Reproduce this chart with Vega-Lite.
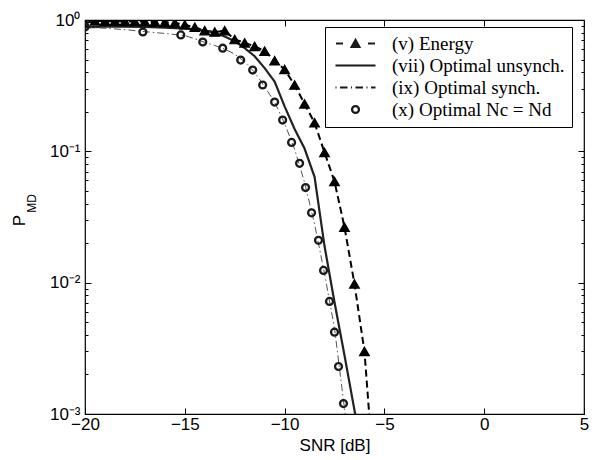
{
  "$schema": "https://vega.github.io/schema/vega-lite/v6.json",
  "width": 499,
  "height": 394,
  "autosize": {"type": "none"},
  "padding": {"left": 85, "top": 20, "right": 14, "bottom": 46},
  "background": "white",
  "config": {
    "view": {"stroke": "#000000", "strokeWidth": 1.2},
    "axis": {
      "grid": false,
      "domain": false,
      "tickColor": "#000000",
      "tickWidth": 1,
      "labelFont": "Liberation Sans",
      "labelFontSize": 17,
      "labelColor": "#000000",
      "titleFont": "Liberation Sans",
      "titleFontSize": 17,
      "titleFontWeight": "normal",
      "titleColor": "#000000",
      "labelOverlap": false,
      "labelFlush": false
    }
  },
  "datasets": {
    "curves": [
      {"s": "(v) Energy", "x": -20, "y": 0.95},
      {"s": "(v) Energy", "x": -19.5, "y": 0.985},
      {"s": "(v) Energy", "x": -19, "y": 0.98},
      {"s": "(v) Energy", "x": -18.5, "y": 0.98},
      {"s": "(v) Energy", "x": -18, "y": 0.975},
      {"s": "(v) Energy", "x": -17.5, "y": 0.975},
      {"s": "(v) Energy", "x": -17, "y": 0.97},
      {"s": "(v) Energy", "x": -16.5, "y": 0.965},
      {"s": "(v) Energy", "x": -16, "y": 0.96},
      {"s": "(v) Energy", "x": -15.5, "y": 0.95},
      {"s": "(v) Energy", "x": -15, "y": 0.92},
      {"s": "(v) Energy", "x": -14.5, "y": 0.88},
      {"s": "(v) Energy", "x": -14, "y": 0.83},
      {"s": "(v) Energy", "x": -13.5, "y": 0.81},
      {"s": "(v) Energy", "x": -13, "y": 0.83},
      {"s": "(v) Energy", "x": -12.5, "y": 0.71},
      {"s": "(v) Energy", "x": -12, "y": 0.67},
      {"s": "(v) Energy", "x": -11.5, "y": 0.63},
      {"s": "(v) Energy", "x": -11, "y": 0.58},
      {"s": "(v) Energy", "x": -10.5, "y": 0.49},
      {"s": "(v) Energy", "x": -10, "y": 0.42},
      {"s": "(v) Energy", "x": -9.5, "y": 0.32},
      {"s": "(v) Energy", "x": -9, "y": 0.23},
      {"s": "(v) Energy", "x": -8.5, "y": 0.165},
      {"s": "(v) Energy", "x": -8, "y": 0.098},
      {"s": "(v) Energy", "x": -7.5, "y": 0.059},
      {"s": "(v) Energy", "x": -7, "y": 0.0265},
      {"s": "(v) Energy", "x": -6.5, "y": 0.0098},
      {"s": "(v) Energy", "x": -6, "y": 0.003},
      {"s": "(v) Energy", "x": -5.5, "y": 0.0003},
      {"s": "(vii) Optimal unsynch.", "x": -20, "y": 0.88},
      {"s": "(vii) Optimal unsynch.", "x": -19, "y": 0.89},
      {"s": "(vii) Optimal unsynch.", "x": -18, "y": 0.89},
      {"s": "(vii) Optimal unsynch.", "x": -17, "y": 0.885},
      {"s": "(vii) Optimal unsynch.", "x": -16, "y": 0.875},
      {"s": "(vii) Optimal unsynch.", "x": -15, "y": 0.86},
      {"s": "(vii) Optimal unsynch.", "x": -14.5, "y": 0.85},
      {"s": "(vii) Optimal unsynch.", "x": -14, "y": 0.83},
      {"s": "(vii) Optimal unsynch.", "x": -13.5, "y": 0.8},
      {"s": "(vii) Optimal unsynch.", "x": -13, "y": 0.75},
      {"s": "(vii) Optimal unsynch.", "x": -12.5, "y": 0.69},
      {"s": "(vii) Optimal unsynch.", "x": -12, "y": 0.61},
      {"s": "(vii) Optimal unsynch.", "x": -11.5, "y": 0.53},
      {"s": "(vii) Optimal unsynch.", "x": -11, "y": 0.43},
      {"s": "(vii) Optimal unsynch.", "x": -10.5, "y": 0.34},
      {"s": "(vii) Optimal unsynch.", "x": -10, "y": 0.22},
      {"s": "(vii) Optimal unsynch.", "x": -9.5, "y": 0.148},
      {"s": "(vii) Optimal unsynch.", "x": -9, "y": 0.105},
      {"s": "(vii) Optimal unsynch.", "x": -8.5, "y": 0.064},
      {"s": "(vii) Optimal unsynch.", "x": -8, "y": 0.019},
      {"s": "(vii) Optimal unsynch.", "x": -7.5, "y": 0.0071},
      {"s": "(vii) Optimal unsynch.", "x": -7, "y": 0.0028},
      {"s": "(vii) Optimal unsynch.", "x": -6.5, "y": 0.00107},
      {"s": "(vii) Optimal unsynch.", "x": -6, "y": 0.0004},
      {"s": "(ix) Optimal synch.", "x": -20, "y": 0.885},
      {"s": "(ix) Optimal synch.", "x": -19, "y": 0.865},
      {"s": "(ix) Optimal synch.", "x": -18, "y": 0.845},
      {"s": "(ix) Optimal synch.", "x": -17, "y": 0.815},
      {"s": "(ix) Optimal synch.", "x": -16, "y": 0.79},
      {"s": "(ix) Optimal synch.", "x": -15, "y": 0.76},
      {"s": "(ix) Optimal synch.", "x": -14.5, "y": 0.72},
      {"s": "(ix) Optimal synch.", "x": -14, "y": 0.675},
      {"s": "(ix) Optimal synch.", "x": -13.5, "y": 0.64},
      {"s": "(ix) Optimal synch.", "x": -13, "y": 0.6},
      {"s": "(ix) Optimal synch.", "x": -12.5, "y": 0.55},
      {"s": "(ix) Optimal synch.", "x": -12, "y": 0.48},
      {"s": "(ix) Optimal synch.", "x": -11.5, "y": 0.4},
      {"s": "(ix) Optimal synch.", "x": -11, "y": 0.31},
      {"s": "(ix) Optimal synch.", "x": -10.5, "y": 0.237},
      {"s": "(ix) Optimal synch.", "x": -10, "y": 0.163},
      {"s": "(ix) Optimal synch.", "x": -9.5, "y": 0.104},
      {"s": "(ix) Optimal synch.", "x": -9, "y": 0.058},
      {"s": "(ix) Optimal synch.", "x": -8.5, "y": 0.028},
      {"s": "(ix) Optimal synch.", "x": -8, "y": 0.0117},
      {"s": "(ix) Optimal synch.", "x": -7.5, "y": 0.0045},
      {"s": "(ix) Optimal synch.", "x": -7, "y": 0.0011},
      {"s": "(ix) Optimal synch.", "x": -6.5, "y": 0.0003}
    ],
    "circ": [
      {"s": "(x) Optimal Nc = Nd", "x": -20, "y": 0.885},
      {"s": "(x) Optimal Nc = Nd", "x": -17.1, "y": 0.81},
      {"s": "(x) Optimal Nc = Nd", "x": -15.2, "y": 0.77},
      {"s": "(x) Optimal Nc = Nd", "x": -14.1, "y": 0.68},
      {"s": "(x) Optimal Nc = Nd", "x": -13.1, "y": 0.61},
      {"s": "(x) Optimal Nc = Nd", "x": -12.2, "y": 0.495},
      {"s": "(x) Optimal Nc = Nd", "x": -11.6, "y": 0.416},
      {"s": "(x) Optimal Nc = Nd", "x": -11.1, "y": 0.32},
      {"s": "(x) Optimal Nc = Nd", "x": -10.5, "y": 0.237},
      {"s": "(x) Optimal Nc = Nd", "x": -10.1, "y": 0.173},
      {"s": "(x) Optimal Nc = Nd", "x": -9.65, "y": 0.117},
      {"s": "(x) Optimal Nc = Nd", "x": -9.25, "y": 0.081},
      {"s": "(x) Optimal Nc = Nd", "x": -8.95, "y": 0.053},
      {"s": "(x) Optimal Nc = Nd", "x": -8.65, "y": 0.034},
      {"s": "(x) Optimal Nc = Nd", "x": -8.3, "y": 0.021},
      {"s": "(x) Optimal Nc = Nd", "x": -8.05, "y": 0.0124},
      {"s": "(x) Optimal Nc = Nd", "x": -7.75, "y": 0.0072},
      {"s": "(x) Optimal Nc = Nd", "x": -7.5, "y": 0.0042},
      {"s": "(x) Optimal Nc = Nd", "x": -7.3, "y": 0.0023},
      {"s": "(x) Optimal Nc = Nd", "x": -7.05, "y": 0.0012}
    ]
  },
  "resolve": {"axis": {"x": "independent", "y": "independent"}},
  "layer": [
    {
      "data": {"name": "curves"},
      "transform": [{"filter": "datum.s === '(v) Energy'"}],
      "mark": {"type": "line", "clip": true, "color": "#000000", "strokeWidth": 2, "strokeDash": [7, 4]},
      "encoding": {
        "x": {"field": "x", "type": "quantitative", "scale": {"domain": [-20, 5], "nice": false, "zero": false},
          "axis": {"orient": "bottom", "values": [-20, -15, -10, -5, 0, 5], "tickSize": -6, "labelPadding": 8, "title": "SNR [dB]", "titlePadding": 5}},
        "y": {"field": "y", "type": "quantitative", "scale": {"type": "log", "domain": [0.001, 1], "nice": false},
          "axis": {"orient": "left",
            "values": [0.001, 0.002, 0.003, 0.004, 0.005, 0.006, 0.007, 0.008, 0.009, 0.01, 0.02, 0.03, 0.04, 0.05, 0.06, 0.07, 0.08, 0.09, 0.1, 0.2, 0.3, 0.4, 0.5, 0.6, 0.7, 0.8, 0.9, 1],
            "tickSize": {"condition": {"test": "datum.value == 1 || datum.value == 0.1 || datum.value == 0.01 || datum.value == 0.001", "value": -6}, "value": -3},
            "labelPadding": 11,
            "labelExpr": "datum.value == 1 ? '10⁰' : datum.value == 0.1 ? '10⁻¹' : datum.value == 0.01 ? '10⁻²' : datum.value == 0.001 ? '10⁻³' : ''",
            "title": "P", "titleAngle": -90, "titleX": -61, "titleY": 200, "titleAlign": "center", "titleBaseline": "alphabetic"}}
      }
    },
    {
      "data": {"name": "curves"},
      "transform": [{"filter": "datum.s === '(vii) Optimal unsynch.'"}],
      "mark": {"type": "line", "clip": true, "color": "#222222", "strokeWidth": 2.2},
      "encoding": {
        "x": {"field": "x", "type": "quantitative",
          "axis": {"orient": "top", "values": [-20, -15, -10, -5, 0, 5], "tickSize": -6, "labels": false, "title": null}},
        "y": {"field": "y", "type": "quantitative",
          "axis": {"orient": "right",
            "values": [0.001, 0.002, 0.003, 0.004, 0.005, 0.006, 0.007, 0.008, 0.009, 0.01, 0.02, 0.03, 0.04, 0.05, 0.06, 0.07, 0.08, 0.09, 0.1, 0.2, 0.3, 0.4, 0.5, 0.6, 0.7, 0.8, 0.9, 1],
            "tickSize": {"condition": {"test": "datum.value == 1 || datum.value == 0.1 || datum.value == 0.01 || datum.value == 0.001", "value": -6}, "value": -3},
            "labels": false, "title": null}}
      }
    },
    {
      "data": {"name": "curves"},
      "transform": [{"filter": "datum.s === '(ix) Optimal synch.'"}],
      "mark": {"type": "line", "clip": true, "color": "#555555", "strokeWidth": 1, "strokeDash": [7, 3, 1.5, 3]},
      "encoding": {
        "x": {"field": "x", "type": "quantitative", "axis": null},
        "y": {"field": "y", "type": "quantitative", "axis": null}
      }
    },
    {
      "data": {"name": "curves"},
      "transform": [{"filter": "datum.s === '(v) Energy'"}],
      "mark": {"type": "point", "clip": true, "shape": "triangle-up", "filled": true, "color": "#000000", "size": 95, "stroke": "#000000", "strokeWidth": 1.2, "opacity": 1},
      "encoding": {
        "x": {"field": "x", "type": "quantitative", "axis": null},
        "y": {"field": "y", "type": "quantitative", "axis": null}
      }
    },
    {
      "data": {"name": "circ"},
      "mark": {"type": "point", "clip": true, "filled": true, "color": "#1a1a1a", "stroke": "#1a1a1a", "strokeWidth": 2, "size": 100, "opacity": 1},
      "encoding": {
        "x": {"field": "x", "type": "quantitative", "axis": null},
        "y": {"field": "y", "type": "quantitative",
          "axis": {"orient": "left", "ticks": false, "labels": false, "domain": false,
            "title": "MD", "titleFontSize": 12, "titleAngle": -90, "titleX": -50, "titleY": 183, "titleAlign": "center", "titleBaseline": "alphabetic"}},
        "shape": {"field": "s", "type": "nominal",
          "scale": {"domain": ["(v) Energy", "(vii) Optimal unsynch.", "(ix) Optimal synch.", "(x) Optimal Nc = Nd"],
            "range": [
              "M-3.9,0L-2.5,0M2.5,0L3.9,0M-0.8,0.7L0.8,0.7L0,-0.75Z",
              "M-4,0L4,0",
              "M-4,0L-3.8,0M-3.1,0L-1.6,0M-0.9,0L-0.7,0M0,0L1.5,0M2.2,0L2.4,0M3.1,0L4,0",
              "M0.72,0A0.72,0.72,0,1,1,-0.72,0A0.72,0.72,0,1,1,0.72,0ZM0.66,0A0.66,0.66,0,1,0,-0.66,0A0.66,0.66,0,1,0,0.66,0Z"
            ]},
          "legend": {
            "title": null, "orient": "none", "legendX": 240, "legendY": 7,
            "strokeColor": "#000000", "fillColor": "#ffffff", "padding": 7,
            "symbolSize": 100, "symbolStrokeWidth": 2, "symbolOpacity": 1, "symbolOffset": 14, "labelOffset": 27, "rowPadding": 2,
            "labelFont": "Liberation Serif", "labelFontSize": 19, "labelColor": "#000000", "labelLimit": 400
          }}
      }
    }
  ]
}
